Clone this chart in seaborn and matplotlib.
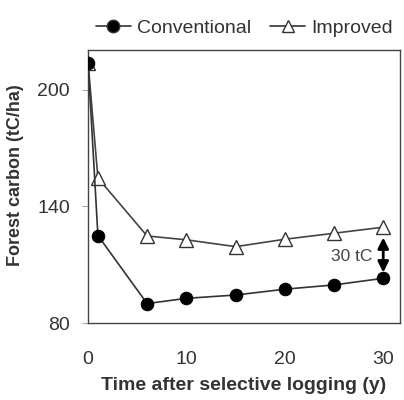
import pandas as pd
import matplotlib
matplotlib.use("Agg")
import matplotlib.pyplot as plt
import seaborn as sns
from matplotlib.lines import Line2D

# 数据
years = [0, 1, 6, 10, 15, 20, 25, 30]
conventional = [214, 125, 90, 92.7, 94.4, 97.4, 99.6, 103]
improved = [214, 154.6, 124.8, 122.8, 119.3, 123.1, 126.2, 129.3]
series_names = ["Conventional", "Improved"]
y_ticks = [80, 140, 200]
x_ticks = [0, 10, 20, 30]

df = pd.DataFrame({
    "year": years * 2,
    "carbon": conventional + improved,
    "system": [series_names[0]] * len(years) + [series_names[1]] * len(years),
})

sns.set_theme(style="white")
plt.rcParams['font.family'] = ['Liberation Sans', 'DejaVu Sans']
txt = "#333333"

fig = plt.figure(figsize=(4.04, 4.00), dpi=100)
ax = fig.add_axes([0.218, 0.1925, 0.772, 0.6825])

ax = sns.lineplot(data=df, x="year", y="carbon", hue="system", style="system",
                  markers={"Conventional": "o", "Improved": "^"}, dashes=False,
                  palette={"Conventional": "#333333", "Improved": "#444444"},
                  linewidth=1.2, ax=ax, legend=False)

# 标记样式
lines = ax.get_lines()
lines[0].set_markersize(9)
lines[0].set_markerfacecolor("black")
lines[0].set_markeredgecolor("black")
lines[1].set_markersize(9.5)
lines[1].set_markerfacecolor("white")
lines[1].set_markeredgecolor("#333333")
lines[1].set_markeredgewidth(1.0)
lines[0].set_zorder(3)

ax.set_xlim(0, 31.7)
ax.set_ylim(80, 220.5)
ax.set_xticks(x_ticks)
ax.set_yticks(y_ticks)
ax.tick_params(axis="x", length=0, pad=20, labelsize=14, labelcolor=txt)
ax.tick_params(axis="y", length=4, width=0.8, left=True, color="#aaaaaa",
               pad=9, labelsize=14, labelcolor=txt)
for s in ax.spines.values():
    s.set_color("#444444")
    s.set_linewidth(1.0)

ax.set_xlabel("Time after selective logging (y)", fontsize=14, fontweight="bold",
              color=txt, labelpad=7)
ax.set_ylabel("Forest carbon (tC/ha)", fontsize=13, fontweight="bold", color=txt)
ax.yaxis.set_label_coords(-0.205, 0.54)

# 30 tC 箭头
ax.annotate("", xy=(30, 124), xytext=(30, 106),
            arrowprops=dict(arrowstyle="<|-|>", color="black", lw=2,
                            mutation_scale=16, shrinkA=0, shrinkB=0))
ax.text(28.9, 114, "30 tC", ha="right", va="center", fontsize=12.5, color="#444444")

# 图例
handles = [
    Line2D([], [], color="#333333", marker="o", markersize=9, markerfacecolor="black",
           lw=1.2),
    Line2D([], [], color="#333333", marker="^", markersize=9, markerfacecolor="white",
           lw=1.2),
]
fig.legend(handles, series_names, loc="upper center", bbox_to_anchor=(0.605, 0.995),
           ncol=2, frameon=False, fontsize=14, handlelength=1.8, handletextpad=0.3,
           columnspacing=1.0, labelcolor=txt)

plt.savefig("out.png", dpi=100)
